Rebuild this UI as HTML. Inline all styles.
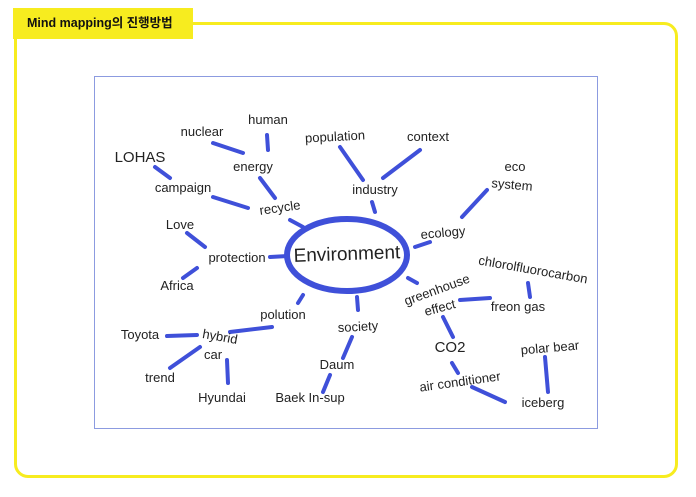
<!DOCTYPE html>
<html><head><meta charset="utf-8">
<style>
html,body{margin:0;padding:0;background:#fff;}
body{width:696px;height:497px;overflow:hidden;position:relative;font-family:"Liberation Sans","Noto Sans CJK KR",sans-serif;}
#frame{position:absolute;left:14px;top:22px;width:664px;height:456px;border:3px solid #f7ec1f;border-radius:14px;box-sizing:border-box;}
#header{position:absolute;left:13px;top:8px;width:180px;height:31px;background:#f7ec1f;font-weight:bold;font-size:12.5px;line-height:31px;padding-left:14px;box-sizing:border-box;color:#111;}
#map{position:absolute;left:0;top:0;}
</style></head><body>
<div id="frame"></div>
<div id="header">Mind mapping의 진행방법</div>
<svg id="map" width="696" height="497">
<rect x="94.5" y="76.5" width="503" height="352" fill="#fff" stroke="#8c9be0" stroke-width="1"/>
<ellipse cx="347" cy="255" rx="60" ry="36" fill="none" stroke="#3f50d9" stroke-width="6"/>
<g id="edges"></g><g id="labels"></g>
</svg>
<script>
const nodeLabels=["human","nuclear","population","context","LOHAS","energy","eco","system","campaign","industry","recycle","Love","ecology","protection","Environment","chlorolfluorocarbon","Africa","greenhouse","effect","freon gas","polution","society","Toyota","hybrid","car","CO2","polar bear","Daum","trend","air conditioner","Hyundai","Baek In-sup","iceberg"];
const nodeX=[268,202,335,428,140,253,515,512,183,375,280,180,443,237,347,533,177,437,440,518,283,358,140,220,213,450,550,337,160,460,222,310,543];
const nodeY=[120,132,137,137,158,167,167,185,188,190,208,225,233,258,256,270,286,290,308,307,315,327,335,337,355,348,348,365,378,382,398,398,403];
const nodeRot=[0,0,-3,0,0,0,0,5,0,0,-8,0,-5,0,-2,10,0,-20,-15,0,0,-3,0,10,0,0,-5,0,0,-8,0,0,0];
const edgeX1=[213,267,260,155,213,290,340,420,372,487,430,187,183,408,528,460,443,452,472,545,303,357,352,330,272,167,200,227,270];
const edgeY1=[143,135,178,167,197,220,147,150,202,190,242,233,278,278,283,300,317,363,387,357,295,297,337,375,327,336,347,360,257];
const edgeX2=[243,268,275,170,248,303,363,383,375,462,415,205,197,417,530,490,453,458,505,548,298,358,343,323,230,197,170,228,288];
const edgeY2=[153,150,198,178,208,227,180,178,212,217,247,247,268,283,297,298,337,373,402,392,303,310,358,392,332,335,368,383,256];
const NS="http://www.w3.org/2000/svg";
const eg=document.getElementById('edges'),lg=document.getElementById('labels');
for(let i=0;i<edgeX1.length;i++){
 const l=document.createElementNS(NS,'line');
 l.setAttribute('x1',edgeX1[i]);l.setAttribute('y1',edgeY1[i]);l.setAttribute('x2',edgeX2[i]);l.setAttribute('y2',edgeY2[i]);
 l.setAttribute('stroke','#3f50d9');l.setAttribute('stroke-width','4');l.setAttribute('stroke-linecap','round');
 
 
 eg.appendChild(l);
}
for(let i=0;i<nodeLabels.length;i++){
 const t=document.createElementNS(NS,'text');
 const big=nodeLabels[i]==="Environment";
 t.setAttribute('x',nodeX[i]);t.setAttribute('y',nodeY[i]+4);
 t.setAttribute('text-anchor','middle');
 t.setAttribute('font-size',big?'19':(nodeLabels[i]==="LOHAS"||nodeLabels[i]==="CO2"?'15':'13'));
 t.setAttribute('fill','#222');
 t.setAttribute('font-family','"Liberation Sans",sans-serif');
 if(nodeRot[i])t.setAttribute('transform','rotate('+nodeRot[i]+' '+nodeX[i]+' '+nodeY[i]+')');
 t.textContent=nodeLabels[i];
 
 
 lg.appendChild(t);
}
</script>
</body></html>
